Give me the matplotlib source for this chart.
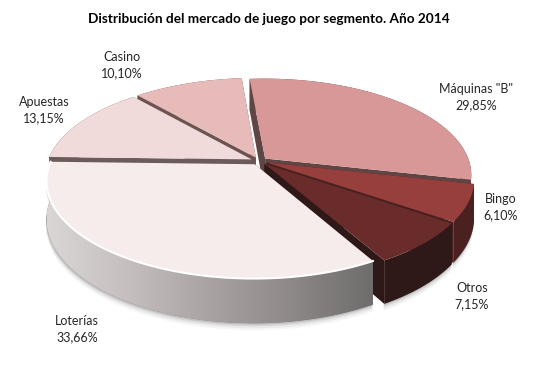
#!/usr/bin/env python
# -*- coding: utf-8 -*-
import numpy as np
import matplotlib
matplotlib.use('Agg')
import matplotlib.pyplot as plt
from matplotlib.colors import LinearSegmentedColormap
from matplotlib.patches import Polygon

title = 'Distribución del mercado de juego por segmento. Año 2014'
segments = ['Máquinas "B"', 'Bingo', 'Otros', 'Loterías', 'Apuestas', 'Casino']
shares = [29.85, 6.10, 7.15, 33.66, 13.15, 10.10]

# colours and layout, same order as segments
top_colors = ['#D89898', '#973F3D', '#692C2B', '#F5ECEB', '#F0DBDA', '#E6BBB9']
side_colors = ['#5F4544', '#4A2120', '#2F1918', '#8A8484', '#6B5B5A', '#6B5452']
label_pos = [(476, 97), (501, 207), (472, 296), (77, 329), (44, 110), (122, 65)]
draw_order = [5, 0, 4, 1, 2, 3]

# fake 3d pie, in pixels of the figure
cx, cy = 259, 161
rx, ry = 204, 94
persp = 0.167
depth = 37
explode = 0.04
first_angle = -4.8


def project(u, v, down=False):
    d = 1 - persp * v
    x = cx + rx * u / d
    y = cy + ry * v / d
    if down:
        y = y + depth / d
    return np.column_stack([x, y])


def extrude(u, v):
    return np.vstack([project(u, v), project(u, v, True)[::-1]])


fig = plt.figure(figsize=(5.45, 3.65), dpi=100)
ax = fig.add_axes([0, 0, 1, 1])
ax.set_xlim(0, 545)
ax.set_ylim(365, 0)
ax.axis('off')

edges = first_angle + np.cumsum([0] + shares) * 360.0 / sum(shares)

slices = []
for i in range(len(shares)):
    t = np.radians(np.linspace(edges[i], edges[i + 1], 120))
    mid = np.radians((edges[i] + edges[i + 1]) / 2.0)
    ou, ov = explode * np.sin(mid), -explode * np.cos(mid)
    slices.append((ou + np.sin(t), ov - np.cos(t), ou, ov))

# soft shadow under the front of the pie
for off, alpha in zip([7, 5, 3, 1.5], [0.05, 0.08, 0.12, 0.18]):
    for i in [3, 2, 1]:
        u, v = slices[i][:2]
        pts = extrude(u, v) + [-0.5, off]
        ax.add_patch(Polygon(pts, closed=True, fc='#555555', ec='none', alpha=alpha, zorder=1))

z = 2
for i in draw_order:
    u, v, ou, ov = slices[i]
    # cut faces go first so the side and top paint over the hidden parts
    for end in [0, -1]:
        eu = np.array([ou, u[end]])
        ev = np.array([ov, v[end]])
        face_color = side_colors[i] if segments[i] != 'Loterías' else '#6B5B5A'
        ax.add_patch(Polygon(extrude(eu, ev), closed=True, fc=face_color, ec='none', zorder=z))
    side = Polygon(extrude(u, v), closed=True, fc=side_colors[i], ec='none', zorder=z + 0.1)
    ax.add_patch(side)
    if segments[i] == 'Loterías':
        # the side of this slice fades from light grey to dark grey
        shade = LinearSegmentedColormap.from_list(
            'side', ['#DAD6D6', '#C6BEBE', '#A8A2A2', '#8E8888', '#6E6C6C'])
        im = ax.imshow(np.linspace(0, 1, 256).reshape(1, -1), cmap=shade, aspect='auto',
                       extent=[project(u, v)[:, 0].min(), project(u, v)[:, 0].max(), 365, 0],
                       zorder=z + 0.2)
        im.set_clip_path(side)
        ax.set_xlim(0, 545)
        ax.set_ylim(365, 0)
    top = np.vstack([project(np.array([ou]), np.array([ov])), project(u, v)])
    ax.add_patch(Polygon(top, closed=True, fc=top_colors[i], ec='none', zorder=z + 0.3))
    if segments[i] == 'Loterías':
        rim = project(u, v)
        ax.plot(rim[:, 0], rim[:, 1], color='white', lw=1.5, zorder=z + 0.4)
    z += 1

plt.rcParams['font.family'] = ['Lato', 'DejaVu Sans']
ax.text(269, 19, title, ha='center', va='center', fontsize=9.8, fontweight='bold',
        color='black', zorder=20)
for name, share, pos in zip(segments, shares, label_pos):
    label = name + '\n' + ('%.2f%%' % share).replace('.', ',')
    ax.text(pos[0], pos[1], label, ha='center', va='center', fontsize=9,
            color='#262626', linespacing=1.45, zorder=20)

fig.savefig('out.png', dpi=100)
